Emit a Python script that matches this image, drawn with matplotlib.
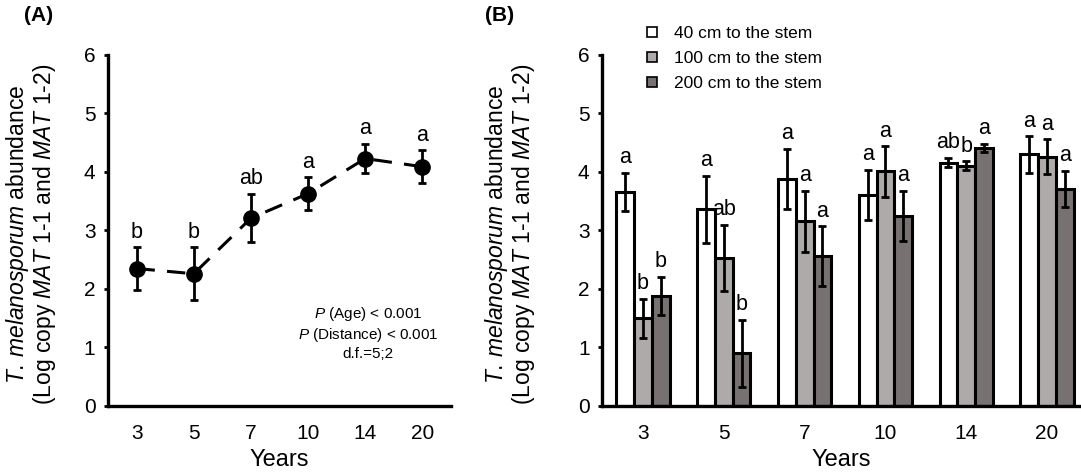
import numpy as np
import matplotlib
matplotlib.use("Agg")
import matplotlib.pyplot as plt
from matplotlib.lines import Line2D

plt.rcParams['font.family'] = ['Liberation Sans', 'DejaVu Sans']
plt.rcParams['mathtext.fontset'] = 'custom'
plt.rcParams['mathtext.rm'] = 'Liberation Sans'
plt.rcParams['mathtext.it'] = 'Liberation Sans:italic'

# data
years = ['3', '5', '7', '10', '14', '20']

# panel A: overall abundance
mean_a = [2.35, 2.26, 3.21, 3.63, 4.23, 4.09]
err_a = [0.36, 0.45, 0.41, 0.28, 0.25, 0.28]
letters_a = ['b', 'b', 'ab', 'a', 'a', 'a']

# panel B: by distance to the stem
series_names = ['40 cm to the stem', '100 cm to the stem', '200 cm to the stem']
mean_40 = [3.66, 3.36, 3.88, 3.61, 4.16, 4.30]
err_40 = [0.33, 0.57, 0.51, 0.43, 0.08, 0.31]
mean_100 = [1.50, 2.53, 3.16, 4.01, 4.11, 4.26]
err_100 = [0.33, 0.56, 0.52, 0.43, 0.07, 0.30]
mean_200 = [1.88, 0.90, 2.56, 3.25, 4.41, 3.71]
err_200 = [0.33, 0.57, 0.51, 0.43, 0.07, 0.31]
letters_40 = ['a', 'a', 'a', 'a', 'ab', 'a']
letters_100 = ['b', 'ab', 'a', 'a', 'b', 'a']
letters_200 = ['b', 'b', 'a', 'a', 'a', 'a']

colors = ['white', '#aeaaa9', '#777171']

ylab = (r"$\mathit{T.\,melanosporum}$ abundance" + "\n" +
        r"(Log copy $\mathit{MAT}$ $\mathit{1}$-$\mathit{1}$ and $\mathit{MAT}$ $\mathit{1}$-$\mathit{2}$)")

fig = plt.figure(figsize=(10.81, 4.74), dpi=100)
axA = fig.add_axes([0.0999, 0.1435, 0.3173, 0.7405])
axB = fig.add_axes([0.5569, 0.1435, 0.4431, 0.7405])


def style_axis(ax):
    for s in ['top', 'right']:
        ax.spines[s].set_visible(False)
    for s in ['left', 'bottom']:
        ax.spines[s].set_linewidth(2.4)
    ax.set_ylim(0, 6)
    ax.set_yticks(range(7))
    ax.tick_params(axis='x', length=0, pad=13, labelsize=15)
    ax.tick_params(axis='y', length=3, width=2, pad=6, labelsize=15, direction='out')
    ax.set_xlabel('Years', fontsize=17, labelpad=4)
    ax.set_ylabel(ylab, fontsize=16.5, linespacing=1.0)


# ---- panel A
x = np.arange(len(years))
axA.errorbar(x, mean_a, yerr=err_a, color='black', lw=2.2, ls=(0, (6, 4)),
             marker='o', markersize=11, ecolor='black', elinewidth=2,
             capsize=3, capthick=2)
for xi, m, e, l in zip(x, mean_a, err_a, letters_a):
    axA.annotate(l, (xi, m + e), xytext=(0, 7), textcoords='offset points',
                 ha='center', va='baseline', fontsize=15.5)
axA.set_xlim(-0.5, 5.5)
axA.set_xticks(x)
axA.set_xticklabels(years)
style_axis(axA)
axA.yaxis.set_label_coords(-0.145, 0.49)
axA.text(4.05, 1.25, "$\\mathit{P}$ (Age) < 0.001\n$\\mathit{P}$ (Distance) < 0.001\nd.f.=5;2",
         ha='center', va='center', multialignment='center', fontsize=11, linespacing=1.25)

# ---- panel B
w = 0.22
groups = [(mean_40, err_40, letters_40), (mean_100, err_100, letters_100),
          (mean_200, err_200, letters_200)]
for k, (m, e, lt) in enumerate(groups):
    pos = x + (k - 1) * w
    axB.bar(pos, m, width=w, color=colors[k], edgecolor='black', linewidth=2.2, zorder=2)
    axB.errorbar(pos, m, yerr=e, fmt='none', ecolor='black', elinewidth=2,
                 capsize=3, capthick=2, zorder=3)
    for xi, mi, ei, li in zip(pos, m, e, lt):
        axB.annotate(li, (xi, mi + ei), xytext=(0, 7), textcoords='offset points',
                     ha='center', va='baseline', fontsize=15.5)
axB.set_xlim(-0.507, 5.42)
axB.set_xticks(x)
axB.set_xticklabels(years)
style_axis(axB)
axB.yaxis.set_label_coords(-0.136, 0.49)

handles = [Line2D([], [], marker='s', linestyle='none', markersize=7,
                  markerfacecolor=c, markeredgecolor='black', markeredgewidth=1.2)
           for c in colors]
fig.legend(handles, series_names, loc='upper left', bbox_to_anchor=(0.595, 0.945),
           frameon=False, fontsize=12.5, handlelength=1.0, handletextpad=0.8,
           labelspacing=0.55, borderpad=0, borderaxespad=0)

fig.text(0.022, 0.968, '(A)', fontsize=15, fontweight='bold', va='center')
fig.text(0.449, 0.968, '(B)', fontsize=15, fontweight='bold', va='center')

fig.savefig('out.png', dpi=100)
